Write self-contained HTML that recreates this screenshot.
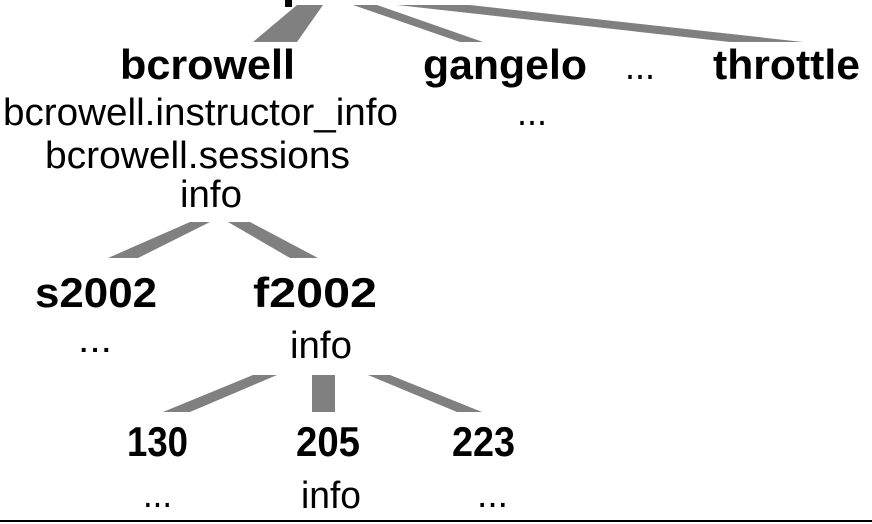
<!DOCTYPE html>
<html><head><meta charset="utf-8"><style>
html,body{margin:0;padding:0;background:#fff;}
svg{display:block;}
text{font-family:"Liberation Sans",Arial,sans-serif;fill:#000;}
.b{font-weight:bold;font-size:42px;}
.r{font-size:38px;}
</style></head><body>
<svg width="872" height="524" viewBox="0 0 872 524" xmlns="http://www.w3.org/2000/svg">
<rect x="285" y="0" width="7" height="7" fill="#000"/>
<g fill="#808080">
<polygon points="297,5 323,5 297,42 253,42"/>
<polygon points="353,5 377,5 483,42 460,42"/>
<polygon points="397,5 470,5 803,42 730,42"/>
<polygon points="190,222 210,222 138,258 108,258"/>
<polygon points="228,222 250,222 318,258 290,258"/>
<polygon points="253,375 277,375 190,412 163,412"/>
<rect x="312" y="375" width="23" height="37"/>
<polygon points="368,375 390,375 482,412 457,412"/>
</g>
<text class="b" x="120" y="79" textLength="175" lengthAdjust="spacingAndGlyphs">bcrowell</text>
<text class="b" x="423" y="79" textLength="164" lengthAdjust="spacingAndGlyphs">gangelo</text>
<text class="r" x="625" y="79" textLength="30" lengthAdjust="spacingAndGlyphs">...</text>
<text class="b" x="713" y="79" textLength="147" lengthAdjust="spacingAndGlyphs">throttle</text>
<text class="r" x="3" y="125" textLength="395" lengthAdjust="spacingAndGlyphs">bcrowell.instructor_info</text>
<text class="r" x="517" y="125" textLength="30" lengthAdjust="spacingAndGlyphs">...</text>
<text class="r" x="45" y="168" textLength="305" lengthAdjust="spacingAndGlyphs">bcrowell.sessions</text>
<text class="r" x="180" y="207" textLength="62" lengthAdjust="spacingAndGlyphs">info</text>
<text class="b" x="35" y="307" textLength="122" lengthAdjust="spacingAndGlyphs">s2002</text>
<text class="b" x="253" y="307" textLength="124" lengthAdjust="spacingAndGlyphs">f2002</text>
<text class="r" x="78" y="352" textLength="34" lengthAdjust="spacingAndGlyphs">...</text>
<text class="r" x="290" y="358" textLength="62" lengthAdjust="spacingAndGlyphs">info</text>
<text class="b" x="127" y="456" textLength="61" lengthAdjust="spacingAndGlyphs">130</text>
<text class="b" x="296" y="456" textLength="64" lengthAdjust="spacingAndGlyphs">205</text>
<text class="b" x="452" y="456" textLength="63" lengthAdjust="spacingAndGlyphs">223</text>
<text class="r" x="143" y="507" textLength="29" lengthAdjust="spacingAndGlyphs">...</text>
<text class="r" x="301" y="508" textLength="60" lengthAdjust="spacingAndGlyphs">info</text>
<text class="r" x="477" y="507" textLength="31" lengthAdjust="spacingAndGlyphs">...</text>
<rect x="0" y="520" width="872" height="2" fill="#000"/>
</svg>
</body></html>
